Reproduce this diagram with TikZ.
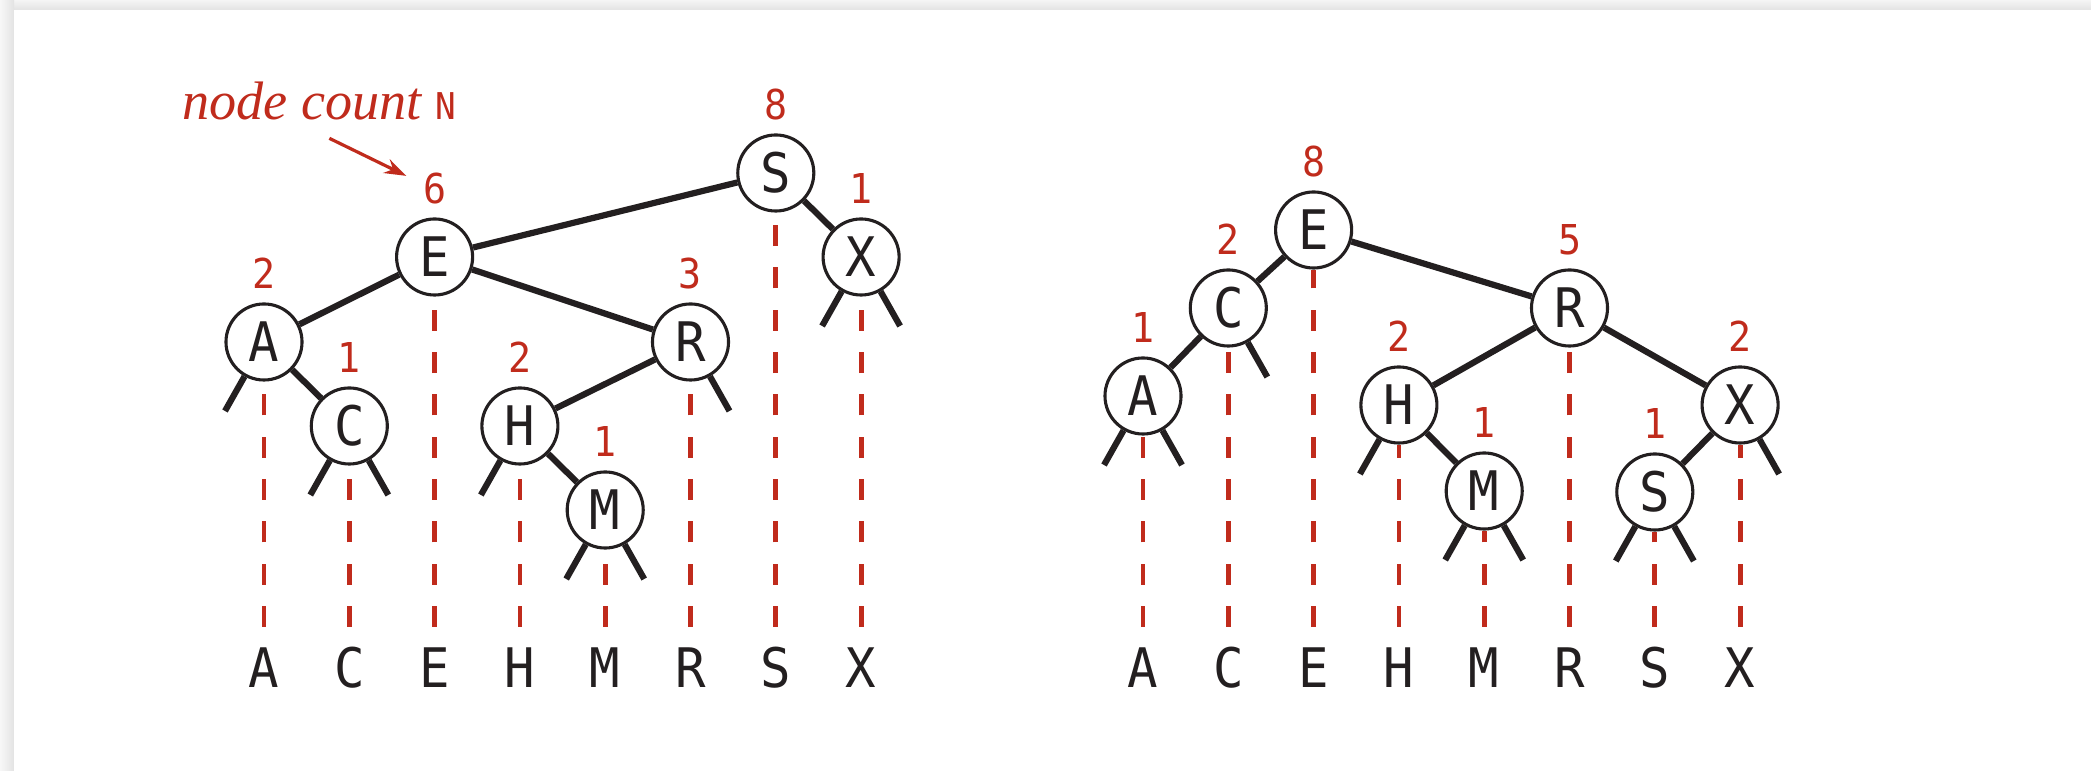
\documentclass[tikz,border=0pt]{standalone}
\usepackage{fontspec}
\setmainfont{Liberation Serif}
\newfontfamily\keyfont[FakeStretch=0.93]{DejaVu Sans Mono}
\usetikzlibrary{arrows.meta,positioning}
\definecolor{bookred}{RGB}{192,43,28}
\definecolor{ink}{RGB}{35,31,32}
\tikzset{
  tnode/.style={circle, draw=ink, line width=0.031cm, fill=white, minimum size=0.76cm,
    inner sep=0pt, text=ink, font=\keyfont\fontsize{15.5}{16}\selectfont},
  keylabel/.style={anchor=base, inner sep=0pt, outer sep=0.2cm, text height=0.41cm,
    text depth=0pt, text=ink, font=\keyfont\fontsize{15.5}{16}\selectfont},
  cnt/.style={above=0.13cm of #1, inner sep=0pt, text=bookred,
    font=\keyfont\fontsize{11.7}{12}\selectfont},
  link/.style={draw=ink, line width=0.062cm},
  keyline/.style={draw=bookred, line width=0.048cm, dash pattern=on 0.21cm off 0.213cm}
}
\begin{document}
\begin{tikzpicture}[x=0.01cm, y=-0.01cm]
  \useasboundingbox (0,0) rectangle (2091,771);
  \shade[top color=gray!8, bottom color=gray!22] (0,0) rectangle (2091,10);
  \shade[left color=gray!6, right color=gray!22] (0,0) rectangle (14,771);
  \fill[white] (14,10) rectangle (2091,771);
  % keys below both trees
  \foreach \k [count=\i from 0] in {A,C,E,H,M,R,S,X} {
    \node[keylabel] (a\k-k) at ({264+85.3*\i},688) {\k};
    \node[keylabel] (b\k-k) at ({1143+85.3*\i},688) {\k};
  }
  % left tree
  \node[tnode] (aS) at (aS-k |- 0,173) {S};
  \node[tnode] (aE) at (aE-k |- 0,257) {E};
  \node[tnode] (aX) at (aX-k |- 0,257) {X};
  \node[tnode] (aA) at (aA-k |- 0,342) {A};
  \node[tnode] (aR) at (aR-k |- 0,342) {R};
  \node[tnode] (aC) at (aC-k |- 0,426) {C};
  \node[tnode] (aH) at (aH-k |- 0,426) {H};
  \node[tnode] (aM) at (aM-k |- 0,510) {M};
  % right tree
  \node[tnode] (bE) at (bE-k |- 0,230) {E};
  \node[tnode] (bC) at (bC-k |- 0,308) {C};
  \node[tnode] (bR) at (bR-k |- 0,308) {R};
  \node[tnode] (bA) at (bA-k |- 0,396) {A};
  \node[tnode] (bH) at (bH-k |- 0,405) {H};
  \node[tnode] (bX) at (bX-k |- 0,405) {X};
  \node[tnode] (bM) at (bM-k |- 0,491) {M};
  \node[tnode] (bS) at (bS-k |- 0,492) {S};
  % subtree counts
  \node[cnt=aS] (aS-n) {8};
  \node[cnt=aE] (aE-n) {6};
  \node[cnt=aX] (aX-n) {1};
  \node[cnt=aA] (aA-n) {2};
  \node[cnt=aR] (aR-n) {3};
  \node[cnt=aC] (aC-n) {1};
  \node[cnt=aH] (aH-n) {2};
  \node[cnt=aM] (aM-n) {1};
  \node[cnt=bE] (bE-n) {8};
  \node[cnt=bC] (bC-n) {2};
  \node[cnt=bR] (bR-n) {5};
  \node[cnt=bA] (bA-n) {1};
  \node[cnt=bH] (bH-n) {2};
  \node[cnt=bX] (bX-n) {2};
  \node[cnt=bM] (bM-n) {1};
  \node[cnt=bS] (bS-n) {1};
  \foreach \k in {A,C,E,H,M,R,S,X} {
    \draw[keyline] (a\k-k) -- (a\k);
    \draw[keyline] (b\k-k) -- (b\k);
  }
  \draw[link] (aS) -- (aE);  \draw[link] (aS) -- (aX);
  \draw[link] (aE) -- (aA);  \draw[link] (aE) -- (aR);
  \draw[link] (aA) -- (aC);  \draw[link] (aR) -- (aH);
  \draw[link] (aH) -- (aM);
  \draw[link] (bE) -- (bC);  \draw[link] (bE) -- (bR);
  \draw[link] (bC) -- (bA);  \draw[link] (bR) -- (bH);
  \draw[link] (bR) -- (bX);  \draw[link] (bH) -- (bM);
  \draw[link] (bX) -- (bS);
  % null links
  \foreach \v/\s in {aA/-1, aC/-1, aC/1, aH/-1, aM/-1, aM/1, aR/1, aX/-1, aX/1,
                     bC/1, bA/-1, bA/1, bH/-1, bM/-1, bM/1, bX/1, bS/-1, bS/1} {
    \coordinate (\v-nil\s) at ([shift={(\s*39,69)}]\v.center);
    \draw[link] (\v) -- (\v-nil\s);
  }
  \node[anchor=base west, inner sep=0pt, text=bookred, font=\fontsize{15.4}{16}\selectfont\itshape]
    (count) at (182,120) {node count {\upshape\keyfont\fontsize{10.5}{11}\selectfont N}};
  \draw[-{Stealth[length=0.22cm, width=0.15cm]}, bookred, line width=0.032cm]
    ([shift={(10,17)}]count.south) -- ([shift={(-16,4)}]aE-n.north west);
\end{tikzpicture}
\end{document}
